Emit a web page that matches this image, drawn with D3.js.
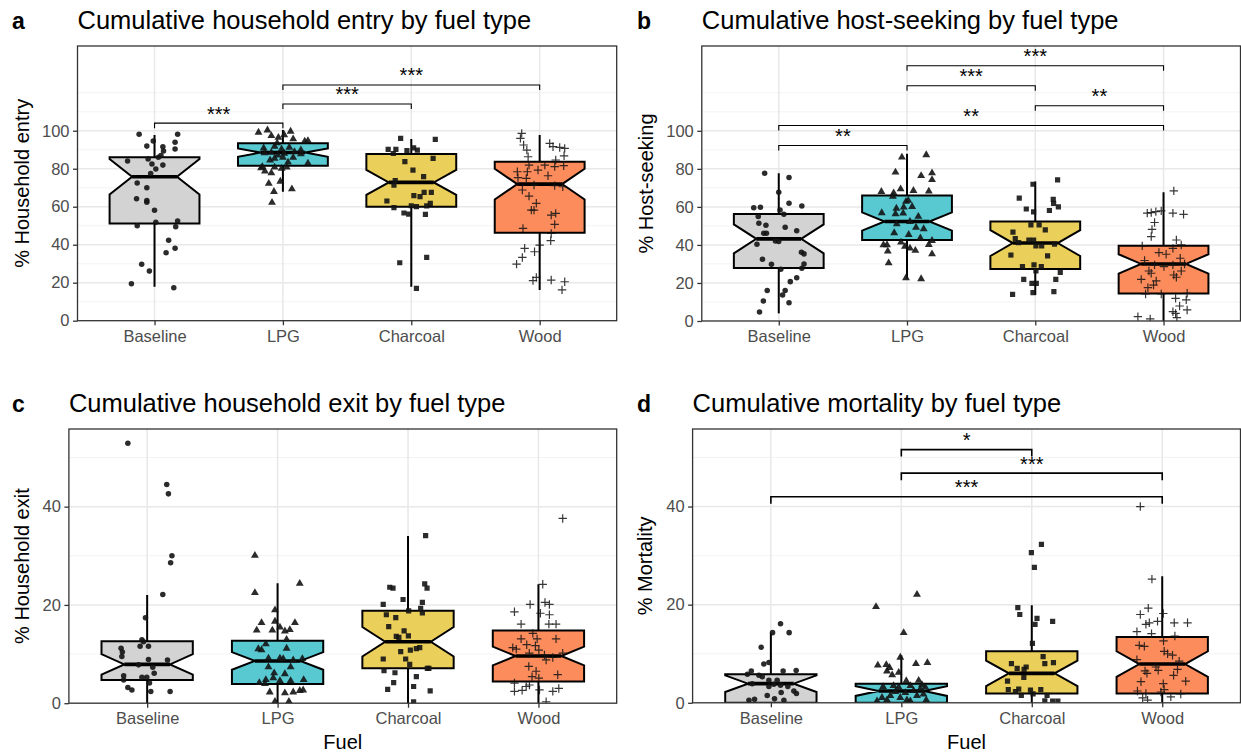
<!DOCTYPE html>
<html>
<head>
<meta charset="utf-8">
<script src="https://cdn.jsdelivr.net/npm/d3@7"></script>
<style>
  body { margin: 0; background: #fff; }
  svg { display: block; }
  text { font-family: "Liberation Sans", Arial, Helvetica, sans-serif; }
</style>
</head>
<body>
<svg id="fig" width="1241" height="752"></svg>
<script>
// ---- categories and styling keys ----
const categories = ["Baseline", "LPG", "Charcoal", "Wood"];
const fuelColors = ["#d3d3d3", "#58c9d1", "#ebcf5b", "#fc8c5c"];
const pointShapes = ["circle", "triangle", "square", "plus"];

// ---- box statistics: lower whisker, Q1, notch low, median, notch high, Q3, upper whisker ----
const entryStats = [
  { lo: 17.9, q1: 51.2, nlo: 66.5, med: 75.8, nhi: 85.1, q3: 86.0, hi: 97.7 },
  { lo: 67.9, q1: 81.6, nlo: 86.3, med: 88.5, nhi: 90.7, q3: 93.4, hi: 100.4 },
  { lo: 17.9, q1: 60.0, nlo: 66.2, med: 72.8, nhi: 79.4, q3: 87.7, hi: 95.6 },
  { lo: 16.2, q1: 46.3, nlo: 63.8, med: 71.9, nhi: 80.0, q3: 83.7, hi: 97.7 }
];
const hostStats = [
  { lo: 4.0, q1: 27.9, nlo: 35.6, med: 43.2, nhi: 50.8, q3: 56.3, hi: 77.7 },
  { lo: 22.5, q1: 42.6, nlo: 47.5, med: 52.3, nhi: 57.1, q3: 66.0, hi: 87.9 },
  { lo: 13.7, q1: 27.4, nlo: 34.2, med: 41.0, nhi: 47.8, q3: 52.3, hi: 73.3 },
  { lo: 0, q1: 14.4, nlo: 24.9, med: 30.0, nhi: 35.1, q3: 39.6, hi: 67.7 }
];
const exitStats = [
  { lo: 0, q1: 4.7, nlo: 5.8, med: 7.9, nhi: 10.0, q3: 12.6, hi: 22.0 },
  { lo: 0, q1: 3.9, nlo: 6.8, med: 8.6, nhi: 10.4, q3: 12.7, hi: 24.4 },
  { lo: 0, q1: 7.1, nlo: 9.5, med: 12.5, nhi: 15.5, q3: 18.8, hi: 34.0 },
  { lo: 0, q1: 4.4, nlo: 7.7, med: 9.6, nhi: 11.5, q3: 14.8, hi: 24.2 }
];
const mortStats = [
  { lo: 0, q1: 0, nlo: 2.2, med: 3.9, nhi: 5.6, q3: 5.8, hi: 14.3 },
  { lo: 0, q1: 0, nlo: 1.4, med: 2.4, nhi: 3.4, q3: 3.9, hi: 9.7 },
  { lo: 0, q1: 1.9, nlo: 3.4, med: 6.0, nhi: 8.6, q3: 10.5, hi: 19.9 },
  { lo: 0, q1: 1.9, nlo: 5.3, med: 7.9, nhi: 10.5, q3: 13.4, hi: 25.8 }
];

// ---- household observations: [jitter (fraction of category step), percent] ----
const entryBaseline = [[-0.12,98.1],[0.18,98.1],[-0.01,94.6],[-0.06,91.9],[0.065,91.6],[0.16,93.9],[0.16,90.4],[0.07,89.3],[0.05,86.9],[0.03,86.0],[-0.21,84.1],[-0.05,85.1],[-0.02,82.5],[0.065,81.9],[0.01,79.8],[-0.03,77.5],[-0.135,72.5],[-0.06,70.0],[-0.14,64.2],[-0.06,63.3],[-0.06,62.3],[0,58.1],[-0.135,50.0],[0.01,51.8],[0.18,52.5],[0.165,49.5],[0.11,42.3],[0.16,38.1],[0.09,35.8],[-0.1,29.7],[-0.04,26.1],[-0.18,19.5],[0.15,17.4]];
const entryLPG = [[-0.19,99.5],[-0.12,100.7],[-0.09,97.7],[-0.035,96.8],[0.01,98.2],[0.06,100.0],[0.08,96.0],[0.17,94.8],[0.195,95.1],[-0.15,91.2],[-0.065,92.1],[-0.01,90.7],[0.05,91.6],[0.14,90.2],[-0.09,88.9],[-0.04,87.5],[0.01,88.4],[0.08,86.3],[0.14,88.1],[-0.1,84.9],[-0.065,85.8],[0,86.3],[0.195,83.2],[-0.17,80.7],[-0.14,79.0],[-0.09,78.1],[-0.065,81.1],[-0.01,80.5],[0.03,81.1],[-0.11,72.6],[-0.07,68.3],[-0.02,73.7],[0.07,69.7],[-0.085,62.6],[0.04,83.8],[-0.16,81.4],[-0.045,93.9],[0.09,89.3],[-0.143,88.6]];
const entryCharcoal = [[-0.083,96.0],[0.187,95.4],[-0.18,90.2],[-0.12,90.2],[-0.034,89.5],[0.018,91.0],[0.047,89.8],[-0.14,88.0],[0.17,85.4],[-0.05,83.7],[0.013,79.3],[0.096,75.8],[-0.125,73.7],[-0.135,71.4],[0.02,65.8],[0.068,65.3],[0.10,67.5],[0.156,67.5],[-0.19,63.0],[-0.135,59.5],[0,60.5],[0.04,60.0],[0.12,60.4],[0.148,61.8],[-0.057,56.7],[-0.02,56.1],[0.11,56.0],[-0.09,30.5],[0.12,33.3],[0.04,17.0]];
const entryWood = [[-0.14,98.6],[-0.15,96.0],[-0.125,92.5],[-0.1,89.8],[-0.09,86.3],[-0.083,81.9],[0.078,93.3],[0.104,91.6],[0.156,91.2],[0.195,90.7],[0.19,86.8],[0.125,84.6],[0.04,81.9],[0.117,81.1],[0.187,81.6],[-0.174,78.4],[-0.096,78.4],[-0.013,79.3],[0.065,76.3],[-0.169,75.3],[-0.104,74.9],[-0.044,71.4],[-0.135,68.8],[-0.083,65.6],[0.117,71.1],[0.18,70.5],[-0.026,61.8],[-0.065,58.2],[-0.044,58.2],[0.09,55.6],[0.125,56.5],[0.117,50.7],[-0.13,48.6],[0.09,45.9],[0.086,42.1],[0,39.8],[-0.117,38.1],[-0.04,36.3],[-0.135,33.3],[-0.18,29.8],[-0.026,22.8],[-0.052,21.1],[0.09,21.4],[0.195,20.5],[0.174,16.2]];

const hostBaseline = [[-0.11,77.7],[0.08,75.4],[0,67.7],[0.08,61.9],[0.18,60.5],[-0.195,59.6],[-0.143,59.8],[0.01,58.4],[0.04,56.1],[-0.16,54.9],[-0.155,51.4],[-0.10,50.4],[0.05,49.3],[0.14,47.4],[-0.117,46.1],[-0.096,46.1],[-0.026,42.1],[0,41.8],[-0.17,40.4],[0.177,36.1],[0.197,35.3],[-0.127,32.5],[-0.057,29.8],[0.197,30.0],[0.18,27.7],[0.016,27.2],[0.14,22.8],[0.09,20.7],[-0.09,16.0],[0.05,16.0],[0.03,13.7],[-0.12,10.5],[0.08,9.6],[-0.15,4.7]];
const hostLPG = [[-0.04,86.5],[0.15,87.7],[-0.09,78.6],[0.11,76.7],[0.195,78.2],[0.195,74.6],[-0.2,68.4],[-0.104,67.7],[-0.05,69.8],[0.05,68.9],[0.17,68.6],[-0.11,65.8],[-0.008,63.2],[0.01,63.7],[-0.083,59.6],[-0.026,60.2],[0.04,60.5],[-0.197,57.2],[-0.09,56.7],[-0.03,57.0],[0.088,55.3],[-0.08,51.4],[0.023,52.6],[0.07,49.6],[0.13,48.8],[-0.1,46.7],[0.013,45.8],[0.104,44.0],[0.195,42.6],[-0.184,40.4],[-0.156,40.4],[-0.047,41.8],[-0.016,39.5],[0.023,38.6],[0.065,37.4],[0.17,40.5],[0.195,35.6],[-0.15,37.0],[-0.143,30.9],[-0.008,23.0],[0.11,22.5]];
const hostCharcoal = [[-0.018,71.9],[0.174,74.2],[-0.125,64.6],[0.14,64.0],[0.143,61.9],[0.18,60.0],[-0.07,58.9],[-0.013,57.4],[0.11,58.1],[-0.034,50.5],[0.03,50.5],[0.078,47.9],[-0.174,46.7],[-0.156,43.3],[-0.13,41.2],[-0.05,42.6],[-0.013,42.6],[0.005,39.5],[0.05,39.5],[0.15,40.4],[-0.19,34.7],[0.096,34.2],[-0.01,29.5],[-0.1,28.6],[0.047,28.6],[0.005,26.3],[0.195,25.6],[-0.09,21.9],[0.16,21.9],[-0.026,19.8],[0.008,19.8],[-0.018,14.9],[0.145,15.4],[-0.177,14.0]];
const hostWood = [[0.08,68.4],[-0.096,57.0],[-0.06,57.5],[-0.018,57.9],[0.073,56.7],[0.156,56.1],[-0.07,51.8],[-0.09,48.2],[-0.096,44.4],[0.1,42.6],[0.138,40.0],[-0.166,39.5],[0.073,38.2],[-0.036,36.0],[0.02,35.1],[0.13,33.0],[-0.148,31.8],[-0.07,29.5],[0.003,28.6],[0.073,29.5],[0.164,30.0],[0.138,26.3],[-0.114,26.3],[-0.096,25.1],[0.08,24.2],[0.1,23.0],[-0.174,21.9],[-0.057,21.1],[-0.078,18.9],[-0.122,17.5],[-0.14,14.2],[-0.018,14.2],[0.184,14.6],[0.094,11.9],[0.177,11.1],[0.125,7.9],[0.184,5.8],[0.073,4.9],[0.094,4.0],[0.104,1.8],[-0.2,2.3],[-0.104,1.1],[-0.127,56.7]];

const exitBaseline = [[-0.148,52.9],[0.15,44.5],[0.163,42.6],[0.19,30.0],[0.18,28.6],[0.12,22.1],[-0.013,17.4],[-0.04,12.9],[-0.028,12.5],[-0.054,11.6],[0.01,11.6],[-0.2,11.2],[-0.19,10.4],[-0.194,9.5],[0.01,8.9],[0.156,8.8],[-0.066,7.8],[0.043,7.3],[-0.18,5.6],[-0.04,5.3],[-0.003,5.3],[0.054,6.1],[0.018,4.1],[-0.148,3.2],[-0.117,2.7],[0.028,2.4],[0.176,2.4],[-0.18,4.7]];
const exitLPG = [[-0.174,30.2],[-0.174,22.6],[0.17,24.5],[-0.02,19.1],[-0.123,16.5],[-0.02,16.8],[0.133,16.5],[-0.16,15.0],[-0.04,15.0],[0.018,15.6],[0.056,14.8],[0.094,15.1],[0.069,13.1],[-0.09,12.2],[-0.148,11.2],[-0.123,11.0],[0.069,11.3],[-0.07,9.3],[0.018,9.3],[0.043,9.2],[0.12,8.9],[0.19,9.2],[-0.07,7.5],[0.1,7.5],[-0.026,6.3],[0.056,6.1],[-0.09,4.9],[-0.033,5.3],[0.018,4.7],[0.1,4.7],[0.2,4.9],[-0.14,4.3],[-0.06,2.4],[0.056,2.2],[0.12,2.4],[0.17,2.7],[0.196,2.8],[-0.02,0.5],[0.087,0.5],[-0.097,4.1]];
const exitCharcoal = [[0.135,34.1],[-0.14,23.6],[-0.115,23.4],[0.128,24.3],[0.146,23.4],[-0.19,20.1],[-0.038,21.1],[0.11,20.5],[0.097,19.3],[0.005,18.8],[0.11,18.4],[-0.166,18.0],[-0.094,17.4],[-0.148,15.6],[-0.03,14.7],[-0.09,13.6],[-0.07,13.4],[0.003,13.7],[0.09,11.3],[0.064,11.1],[0.018,10.8],[-0.056,10.5],[-0.19,9.0],[-0.018,9.0],[0.013,7.9],[0.16,7.1],[0.148,7.1],[-0.184,6.6],[-0.1,6.2],[0.064,5.4],[-0.11,4.2],[0.043,3.4],[-0.156,2.8],[0.17,2.5],[0.043,0.3]];
const exitWood = [[0.186,37.6],[0.033,24.2],[-0.064,20.1],[0.05,20.5],[0.084,20.1],[-0.184,18.6],[0.015,18.3],[0.084,18.0],[-0.133,16.1],[0.08,16.1],[0.135,16.1],[-0.043,14.2],[-0.133,13.1],[-0.01,13.1],[0.135,13.1],[-0.197,11.3],[-0.17,11.0],[-0.09,11.9],[-0.023,11.7],[0.003,10.8],[-0.07,10.2],[0.046,9.8],[0.059,8.8],[0.11,9.3],[0.186,10.2],[-0.074,7.5],[-0.018,6.5],[0.148,5.8],[-0.049,5.4],[0.003,5.1],[-0.184,4.1],[-0.094,3.4],[-0.069,3.7],[-0.184,2.4],[-0.125,2.6],[0.008,2.7],[0.11,2.4],[0.156,3.0],[0.059,0.3]];

const mortBaseline = [[0.074,16.1],[0.013,14.3],[0.14,14.3],[-0.074,11.3],[-0.054,7.9],[-0.015,8.2],[-0.15,6.5],[-0.18,5.8],[-0.092,5.6],[-0.066,5.3],[0.094,6.5],[0.194,6.6],[-0.143,3.9],[-0.015,3.3],[0.023,3.8],[0.074,3.6],[0.13,3.3],[-0.015,4.6],[0.176,2.4],[0.196,1.9],[-0.028,1.5],[0.028,0.8],[0.079,2.1],[-0.168,0.5],[-0.125,0.7],[0.1,0.5],[0.048,4.6]];
const mortLPG = [[0.12,22.2],[-0.194,19.7],[0.018,14.4],[-0.008,9.4],[-0.18,7.8],[-0.115,7.9],[-0.09,7.3],[0.112,8.1],[0.2,8.3],[-0.110,6.6],[-0.07,5.8],[-0.02,6.3],[0.038,4.6],[0.133,4.7],[-0.14,3.4],[-0.06,3.6],[0.07,3.6],[0.158,3.8],[0.184,3.3],[-0.148,1.2],[-0.084,1.6],[-0.008,1.2],[0.043,0.7],[0.12,1.6],[0.17,1.9],[-0.110,0.7],[-0.046,2.4],[0.094,2.6],[0.145,2.9],[0.031,2.2],[0.069,0.5],[0.191,0.7],[-0.186,0.5],[-0.02,3.3]];
const mortCharcoal = [[0.074,32.3],[-0.003,30.6],[0.02,27.6],[-0.107,19.4],[-0.092,18.0],[0.04,17.2],[0.025,16.0],[0.16,16.6],[0.005,12.1],[0.087,9.4],[0.1,8.0],[0.166,8.2],[-0.156,8.0],[-0.112,7.0],[-0.043,7.3],[-0.059,6.8],[-0.061,5.2],[-0.186,4.4],[-0.18,2.7],[-0.1,2.8],[-0.01,2.6],[0.069,2.7],[-0.125,2.3],[-0.08,1.5],[0.01,1.8],[0.117,1.5],[0.1,0.4],[0.16,0.35],[0.2,0.35]];
const mortWood = [[-0.168,40.0],[-0.079,25.2],[-0.107,19.3],[-0.168,18.0],[0.008,18.2],[0.092,16.3],[0.194,16.3],[-0.194,14.5],[-0.125,16.0],[-0.099,16.3],[-0.036,16.6],[-0.082,14.1],[0.097,13.6],[0.01,12.6],[-0.176,11.7],[-0.137,11.5],[0.015,10.5],[0.079,9.7],[0.041,10.0],[-0.194,8.8],[0.13,8.5],[-0.048,7.3],[-0.132,6.5],[-0.117,6.0],[-0.031,6.6],[0.087,5.6],[0.117,6.8],[0.18,4.4],[-0.163,4.3],[0.008,3.9],[-0.19,2.4],[-0.125,1.9],[-0.01,2.2],[0.015,2.7],[0.142,1.8],[-0.15,1.0],[-0.112,0.55],[0.066,1.2]];

// ---- pairwise significance brackets ----
const entrySig = [
  { from: "Baseline", to: "LPG", y: 104.0, label: "***" },
  { from: "LPG", to: "Charcoal", y: 114.1, label: "***" },
  { from: "LPG", to: "Wood", y: 124.1, label: "***" }
];
const hostSig = [
  { from: "Baseline", to: "LPG", y: 92.3, label: "**" },
  { from: "Baseline", to: "Wood", y: 102.8, label: "**" },
  { from: "Charcoal", to: "Wood", y: 113.2, label: "**" },
  { from: "LPG", to: "Charcoal", y: 123.7, label: "***" },
  { from: "LPG", to: "Wood", y: 134.2, label: "***" }
];
const mortSig = [
  { from: "LPG", to: "Charcoal", y: 51.6, label: "*" },
  { from: "LPG", to: "Wood", y: 46.8, label: "***" },
  { from: "Baseline", to: "Wood", y: 42.0, label: "***" }
];

// ---- axis breaks ----
const pctTicks = [0, 20, 40, 60, 80, 100];
const pctMinor = d3.range(0, 121, 10);
const lowTicks = [0, 20, 40];
const lowMinor = d3.range(0, 51, 10);

// ---- panel layout ----
const panels = [
  { tag: "a", title: "Cumulative household entry by fuel type", ylab: "% Household entry",
    left: 77.5, right: 616.7, top: 46, bottom: 320.7, ymax: 144.6,
    ticks: pctTicks, minor: pctMinor, stats: entryStats,
    points: [entryBaseline, entryLPG, entryCharcoal, entryWood], sig: entrySig,
    tagX: 12, titleY: 29, ylabX: 29, xlab: null, tip: 5, sigWidth: 1.1 },
  { tag: "b", title: "Cumulative host-seeking by fuel type", ylab: "% Host-seeking",
    left: 701.8, right: 1240.5, top: 46, bottom: 321, ymax: 144.6,
    ticks: pctTicks, minor: pctMinor, stats: hostStats,
    points: [hostBaseline, hostLPG, hostCharcoal, hostWood], sig: hostSig,
    tagX: 637, titleY: 29, ylabX: 653, xlab: null, tip: 5, sigWidth: 1.1 },
  { tag: "c", title: "Cumulative household exit by fuel type", ylab: "% Household exit",
    left: 68.9, right: 616.7, top: 429, bottom: 703.2, ymax: 55.8,
    ticks: lowTicks, minor: lowMinor, stats: exitStats,
    points: [exitBaseline, exitLPG, exitCharcoal, exitWood], sig: [],
    tagX: 12, titleY: 412, ylabX: 29, xlab: "Fuel", tip: 7, sigWidth: 1.6 },
  { tag: "d", title: "Cumulative mortality by fuel type", ylab: "% Mortality",
    left: 692.6, right: 1240.5, top: 429, bottom: 702.8, ymax: 55.8,
    ticks: lowTicks, minor: lowMinor, stats: mortStats,
    points: [mortBaseline, mortLPG, mortCharcoal, mortWood], sig: mortSig,
    tagX: 637, titleY: 412, ylabX: 652, xlab: "Fuel", tip: 7, sigWidth: 1.6 }
];

const svg = d3.select("#fig");
const ink = "#141414";
const axisGrey = "#333333";
const labelGrey = "#4d4d4d";

function drawShape(g, kind, cx, cy) {
  if (kind === "plus") {
    const s = 4.2;
    g.append("path")
      .attr("d", `M${cx - s},${cy}H${cx + s}M${cx},${cy - s}V${cy + s}`)
      .attr("stroke", ink).attr("stroke-width", 1.2).attr("fill", "none")
      .attr("opacity", 0.85);
    return;
  }
  const type = kind === "circle" ? d3.symbolCircle : kind === "triangle" ? d3.symbolTriangle : d3.symbolSquare;
  const size = kind === "circle" ? 24 : kind === "triangle" ? 27 : 27;
  g.append("path")
    .attr("d", d3.symbol().type(type).size(size)())
    .attr("transform", `translate(${cx},${cy + (kind === "triangle" ? 0.7 : 0)})`)
    .attr("fill", ink).attr("opacity", 0.9);
}

function drawPanel(p) {
  const g = svg.append("g");
  const x = d3.scalePoint().domain(categories).range([p.left, p.right]).padding(0.6);
  const y = d3.scaleLinear().domain([0, p.ymax]).range([p.bottom, p.top]);
  const step = x.step();

  // clip to panel
  const clipId = "clip-" + p.tag;
  svg.append("clipPath").attr("id", clipId)
    .append("rect").attr("x", p.left).attr("y", p.top)
    .attr("width", p.right - p.left).attr("height", p.bottom - p.top);
  const plot = g.append("g").attr("clip-path", `url(#${clipId})`);

  // grid
  plot.selectAll(".minor").data(p.minor.filter(v => !p.ticks.includes(v))).join("line")
    .attr("x1", p.left).attr("x2", p.right)
    .attr("y1", d => y(d)).attr("y2", d => y(d))
    .attr("stroke", "#f0f0f0").attr("stroke-width", 0.8);
  plot.selectAll(".major").data(p.ticks).join("line")
    .attr("x1", p.left).attr("x2", p.right)
    .attr("y1", d => y(d)).attr("y2", d => y(d))
    .attr("stroke", "#e8e8e8").attr("stroke-width", 1.5);
  plot.selectAll(".vgrid").data(categories).join("line")
    .attr("x1", d => x(d)).attr("x2", d => x(d))
    .attr("y1", p.top).attr("y2", p.bottom)
    .attr("stroke", "#e8e8e8").attr("stroke-width", 1.5);

  // notched boxes
  categories.forEach((c, i) => {
    const s = p.stats[i];
    const cx = x(c);
    const hw = step * 0.35;
    const ind = step * 0.175;
    const x0 = cx - hw, x1 = cx + hw;
    plot.append("line")
      .attr("x1", cx).attr("x2", cx).attr("y1", y(s.q3)).attr("y2", y(s.hi))
      .attr("stroke", "#000").attr("stroke-width", 2);
    plot.append("line")
      .attr("x1", cx).attr("x2", cx).attr("y1", y(s.q1)).attr("y2", y(s.lo))
      .attr("stroke", "#000").attr("stroke-width", 2);
    const pts = [
      [x0, y(s.q3)], [x0, y(s.nhi)], [x0 + ind, y(s.med)], [x0, y(s.nlo)], [x0, y(s.q1)],
      [x1, y(s.q1)], [x1, y(s.nlo)], [x1 - ind, y(s.med)], [x1, y(s.nhi)], [x1, y(s.q3)]
    ];
    plot.append("path")
      .attr("d", "M" + pts.map(q => q.join(",")).join("L") + "Z")
      .attr("fill", fuelColors[i]).attr("stroke", "#000")
      .attr("stroke-width", 2).attr("stroke-linejoin", "miter");
    plot.append("line")
      .attr("x1", x0 + ind).attr("x2", x1 - ind).attr("y1", y(s.med)).attr("y2", y(s.med))
      .attr("stroke", "#000").attr("stroke-width", 3.6);
  });

  // jittered observations
  categories.forEach((c, i) => {
    p.points[i].forEach(([j, v]) => drawShape(plot, pointShapes[i], x(c) + j * step, y(v)));
  });

  // significance brackets
  p.sig.forEach(b => {
    const xa = x(b.from), xb = x(b.to), yy = y(b.y);
    g.append("path")
      .attr("d", `M${xa},${yy + p.tip}V${yy}H${xb}V${yy + p.tip}`)
      .attr("fill", "none").attr("stroke", "#000").attr("stroke-width", p.sigWidth);
    g.append("text")
      .attr("x", (xa + xb) / 2).attr("y", yy - 2.5)
      .attr("text-anchor", "middle").attr("font-size", 20).attr("fill", "#000")
      .text(b.label);
  });

  // frame
  g.append("rect").attr("x", p.left).attr("y", p.top)
    .attr("width", p.right - p.left).attr("height", p.bottom - p.top)
    .attr("fill", "none").attr("stroke", axisGrey).attr("stroke-width", 1.3);

  // y axis
  const ya = g.append("g").attr("transform", `translate(${p.left},0)`)
    .call(d3.axisLeft(y).tickValues(p.ticks).tickSize(4.5).tickPadding(3.5));
  ya.select(".domain").remove();
  ya.selectAll("line").attr("stroke", axisGrey).attr("stroke-width", 1.3);
  ya.selectAll("text").attr("font-size", 16.5).attr("fill", labelGrey)
    .attr("font-family", '"Liberation Sans", Arial, sans-serif');

  // x axis
  const xa = g.append("g").attr("transform", `translate(0,${p.bottom})`)
    .call(d3.axisBottom(x).tickSize(4.5).tickPadding(5));
  xa.select(".domain").remove();
  xa.selectAll("line").attr("stroke", axisGrey).attr("stroke-width", 1.3);
  xa.selectAll("text").attr("font-size", 16.5).attr("fill", labelGrey)
    .attr("font-family", '"Liberation Sans", Arial, sans-serif');

  // titles
  svg.append("text").attr("x", p.tagX).attr("y", p.titleY)
    .attr("font-size", 23).attr("font-weight", "bold").text(p.tag);
  svg.append("text").attr("x", p.left).attr("y", p.titleY)
    .attr("font-size", 25.5).text(p.title);
  svg.append("text")
    .attr("transform", `translate(${p.ylabX},${(p.top + p.bottom) / 2}) rotate(-90)`)
    .attr("text-anchor", "middle").attr("font-size", 20).text(p.ylab);
  if (p.xlab) {
    svg.append("text").attr("x", (p.left + p.right) / 2).attr("y", 749)
      .attr("text-anchor", "middle").attr("font-size", 20).text(p.xlab);
  }
}

panels.forEach(drawPanel);
</script>
</body>
</html>
